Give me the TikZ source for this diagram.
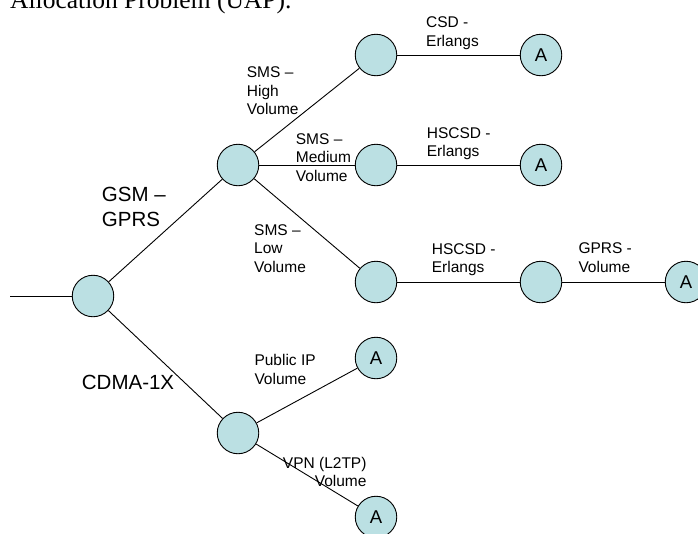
\documentclass[tikz,border=0pt]{standalone}
\usepackage{fontspec}
\setmainfont{Liberation Sans}
\newfontfamily\serifx{Liberation Serif}
\definecolor{nodefill}{RGB}{187,224,227}
\begin{document}
\begin{tikzpicture}[x=1pt,y=-1pt,
  nd/.style={circle,draw=black,line width=0.9pt,fill=nodefill,minimum size=41.5pt,inner sep=0pt,font=\fontsize{18.5}{20}\selectfont},
  sm/.style={inner sep=0pt,anchor=north west,align=left,font=\fontsize{15.5}{18.5}\selectfont},
  bg/.style={inner sep=0pt,anchor=north west,align=left,font=\fontsize{20.5}{25}\selectfont},
  ln/.style={line width=0.9pt}]
\clip (0,0) rectangle (698,533);
\node[inner sep=0pt,anchor=base west,font=\serifx\fontsize{25.5}{28}\selectfont] (title) at (10,8) {Allocation Problem (UAP).};
\coordinate (start) at (10,296);
\node[nd] (root) at (93,296) {};
\node[nd] (g) at (238,165) {};
\node[nd] (c) at (238,433) {};
\node[nd] (n1) at (376,55) {};
\node[nd] (a1) at (541,55) {A};
\node[nd] (n2) at (376,165) {};
\node[nd] (a2) at (541,165) {A};
\node[nd] (n3) at (376,282) {};
\node[nd] (n4) at (541,282) {};
\node[nd] (a3) at (686,282) {A};
\node[nd] (a4) at (376,358) {A};
\node[nd] (a5) at (376,517) {A};
\draw[ln] (start) -- (root);
\draw[ln] (root) -- (g);
\draw[ln] (root) -- (c);
\draw[ln] (g) -- (n1);
\draw[ln] (g) -- (n2);
\draw[ln] (g) -- (n3);
\draw[ln] (n1) -- (a1);
\draw[ln] (n2) -- (a2);
\draw[ln] (n3) -- (n4);
\draw[ln] (n4) -- (a3);
\draw[ln] (c) -- (a4);
\draw[ln] (c) -- (a5);
\node[bg] (lgsm) at (101.7,186.7) {GSM –\\GPRS};
\node[bg] (lcdma) at (81.7,375) {CDMA-1X};
\node[sm] (lhigh) at (246.7,66.7) {SMS –\\High\\Volume};
\node[sm] (lmed) at (295.7,133.3) {SMS –\\Medium\\Volume};
\node[sm] (llow) at (254,224.3) {SMS –\\Low\\Volume};
\node[sm] (lcsd) at (426,16.7) {CSD -\\Erlangs};
\node[sm] (lhs1) at (426.7,127.3) {HSCSD -\\Erlangs};
\node[sm] (lhs2) at (431.7,243.3) {HSCSD -\\Erlangs};
\node[sm] (lgprs) at (578.3,242.7) {GPRS -\\Volume};
\node[sm] (lpub) at (254.3,354.3) {Public IP\\Volume};
\node[sm,anchor=north east,align=right] (lvpn) at (366.7,456.7) {VPN (L2TP)\\Volume};
\end{tikzpicture}
\end{document}
